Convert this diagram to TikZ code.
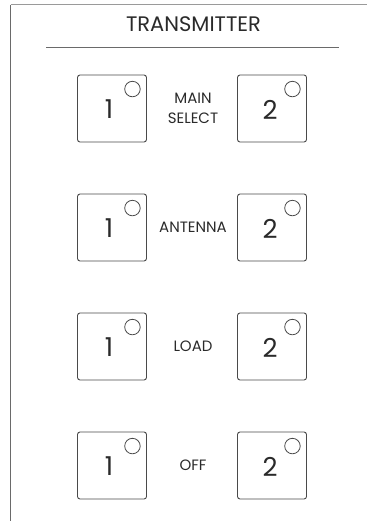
\documentclass[tikz,border=0pt]{standalone}
\usepackage{fontspec}
\setmainfont{Poppins}
\definecolor{edge}{HTML}{4A4A4A}
\definecolor{rule}{HTML}{6A6A6A}
\definecolor{faint}{HTML}{9A9A9A}
\definecolor{ink}{HTML}{2A2A2A}
\tikzset{
  keybox/.style={draw=edge, line width=0.9pt, rounded corners=2.5pt, minimum width=69pt, minimum height=67pt, inner sep=0pt},
  lamp/.style={draw=edge, line width=0.8pt, circle, minimum size=15.5pt, inner sep=0pt},
  digit/.style={text=ink, font=\fontsize{26}{26}\selectfont, inner sep=0pt},
  lbl/.style={text=ink, font=\fontsize{15}{20}\selectfont, align=center, inner sep=0pt},
  title/.style={text=ink, font=\fontsize{21}{22}\selectfont, inner sep=0pt}
}
\begin{document}
\begin{tikzpicture}[x=1pt,y=-1pt]
\useasboundingbox (0,0) rectangle (367,521);
\coordinate (tl) at (10.5,5);
\coordinate (tr) at (367,5);
\coordinate (bl) at (10.5,521);
\draw[faint, line width=1pt] (tl) -- (tr);
\draw[rule, line width=1.1pt] (tl) -- (bl);
\node[title] (ttl) at (193.5,24.5) {TRANSMITTER};
\coordinate (ul) at (46,47);
\coordinate (ur) at (339,47);
\draw[rule, line width=0.9pt] (ul) -- (ur);
\foreach \r/\yy/\txt in {1/108.5/{MAIN\\SELECT}, 2/227.5/ANTENNA, 3/346.5/LOAD, 4/465.5/OFF}{
  \node[keybox] (a\r) at (112,\yy) {};
  \node[keybox] (b\r) at (272,\yy) {};
  \node[lamp] (la\r) at ([xshift=-14.5pt,yshift=-14.5pt]a\r.north east) {};
  \node[lamp] (lb\r) at ([xshift=-14.5pt,yshift=-14.5pt]b\r.north east) {};
  \node[digit] (da\r) at ([xshift=-3pt,yshift=-1pt]a\r.center) {1};
  \node[digit] (db\r) at ([xshift=-2pt,yshift=-1pt]b\r.center) {2};
  \node[lbl] (t\r) at (193,\yy) {\txt};
}
\end{tikzpicture}
\end{document}
